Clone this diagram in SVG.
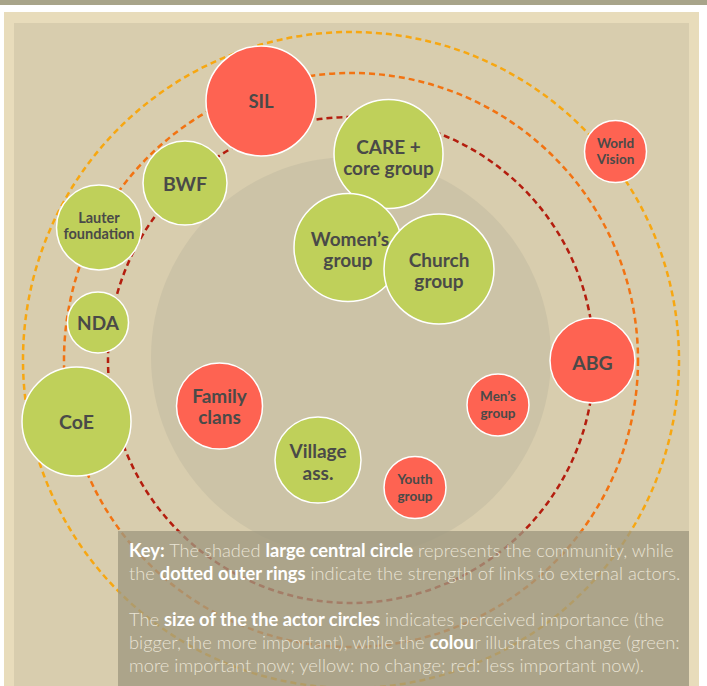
<svg xmlns="http://www.w3.org/2000/svg" width="707" height="686" viewBox="0 0 707 686">
<style>
.ring{fill:none;stroke-width:2.5;stroke-dasharray:6 4}
.red{fill:#fe6352;stroke:#fff;stroke-width:1.5}
.grn{fill:#bfd05a;stroke:#fff;stroke-width:1.5}
.lbl{font-family:Lato,"Liberation Sans",sans-serif;font-weight:bold;fill:#4a4a48;text-anchor:middle;dominant-baseline:central}
.k{font-family:Lato,"Liberation Sans",sans-serif;font-size:18.3px;font-weight:300;fill:#e9e3d4}
.k tspan.b{font-weight:bold;fill:#ffffff}
</style>
<rect x="0" y="0" width="707" height="686" fill="#ffffff"/>
<rect x="0" y="0" width="707" height="5" fill="#a8a48a"/>
<rect x="4" y="12" width="695" height="674" fill="#e8dcbb"/>
<rect x="14" y="23" width="675" height="663" fill="#d8cdae"/>
<circle cx="351" cy="357" r="200" fill="#ccc3a7"/>
<g id="connectors">
<circle class="ring" cx="351" cy="360" r="328" stroke="#f7a711"/>
<circle class="ring" cx="351" cy="360" r="287" stroke="#f27312"/>
<circle class="ring" cx="351" cy="360" r="243" stroke="#b41d0e"/>
</g>
<g id="sil"><circle class="red" cx="261" cy="101" r="55"/><text class="lbl" x="261" y="101" font-size="18.5">SIL</text></g>
<g id="care"><circle class="grn" cx="388.5" cy="154" r="54.5"/><text class="lbl" x="388.5" y="146" font-size="19">CARE +</text><text class="lbl" x="388.5" y="167.5" font-size="19">core group</text></g>
<g id="women"><circle class="grn" cx="348" cy="247.5" r="54"/><text class="lbl" x="350" y="238" font-size="19">Women’s</text><text class="lbl" x="348" y="259.5" font-size="19">group</text></g>
<g id="church"><circle class="grn" cx="439" cy="269" r="55"/><text class="lbl" x="439" y="259" font-size="19">Church</text><text class="lbl" x="439" y="280.5" font-size="19">group</text></g>
<g id="bwf"><circle class="grn" cx="185" cy="183" r="42"/><text class="lbl" x="185" y="183" font-size="19.5">BWF</text></g>
<g id="lauter"><circle class="grn" cx="99" cy="227.5" r="42.5"/><text class="lbl" x="99" y="217" font-size="14.5">Lauter</text><text class="lbl" x="99" y="233" font-size="14.5">foundation</text></g>
<g id="nda"><circle class="grn" cx="98" cy="322.5" r="30.5"/><text class="lbl" x="98" y="322.5" font-size="19">NDA</text></g>
<g id="coe"><circle class="grn" cx="76.5" cy="421.5" r="54.5"/><text class="lbl" x="76.5" y="421.5" font-size="19.5">CoE</text></g>
<g id="family"><circle class="red" cx="219.5" cy="406" r="43"/><text class="lbl" x="219.5" y="395" font-size="19">Family</text><text class="lbl" x="219.5" y="416.5" font-size="19">clans</text></g>
<g id="village"><circle class="grn" cx="318" cy="460" r="43"/><text class="lbl" x="318" y="450.5" font-size="19">Village</text><text class="lbl" x="318" y="472" font-size="19">ass.</text></g>
<g id="youth"><circle class="red" cx="415" cy="487.5" r="31"/><text class="lbl" x="415" y="479" font-size="13.5">Youth</text><text class="lbl" x="415" y="496" font-size="13.5">group</text></g>
<g id="men"><circle class="red" cx="498" cy="405" r="31"/><text class="lbl" x="498" y="396" font-size="13.5">Men’s</text><text class="lbl" x="498" y="413" font-size="13.5">group</text></g>
<g id="abg"><circle class="red" cx="592.5" cy="360.5" r="42.5"/><text class="lbl" x="592.5" y="362" font-size="19.5">ABG</text></g>
<g id="worldvision"><circle class="red" cx="615.5" cy="151.5" r="31"/><text class="lbl" x="615.5" y="143" font-size="13.5">World</text><text class="lbl" x="615.5" y="159" font-size="13.5">Vision</text></g>
<g id="key">
<rect x="118" y="531" width="571" height="155" fill="#9f9880" fill-opacity="0.78"/>
<text class="k" x="129" y="557"><tspan class="b">Key:</tspan> The shaded <tspan class="b">large central circle</tspan> represents the community, while</text>
<text class="k" x="129" y="580">the <tspan class="b">dotted outer rings</tspan> indicate the strength of links to external actors.</text>
<text class="k" x="129" y="626">The <tspan class="b">size of the the actor circles</tspan> indicates perceived importance (the</text>
<text class="k" x="129" y="649">bigger, the more important), while the <tspan class="b">colou</tspan>r illustrates change (green:</text>
<text class="k" x="129" y="672">more important now; yellow: no change; red: less important now).</text>
</g>
</svg>
